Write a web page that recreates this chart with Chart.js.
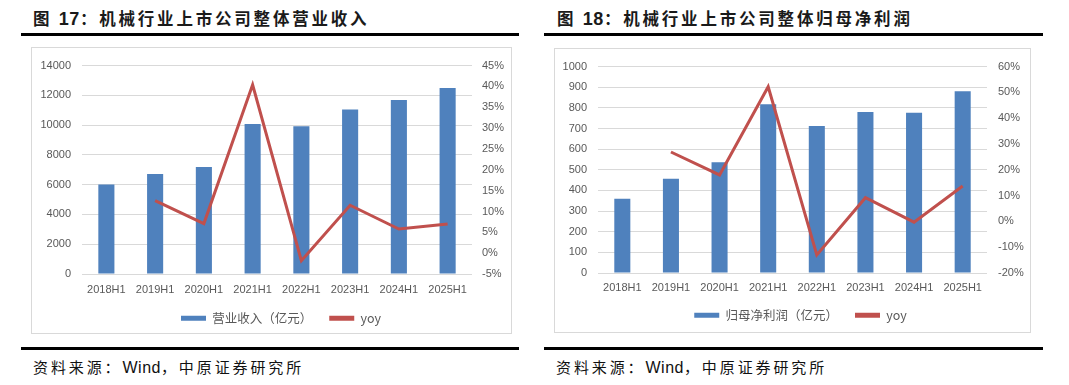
<!DOCTYPE html>
<html><head><meta charset="utf-8">
<script src="https://cdn.jsdelivr.net/npm/chart.js@4.4.1/dist/chart.umd.min.js"></script>
<style>
html,body{margin:0;padding:0;background:#fff;width:1069px;height:385px;overflow:hidden;position:relative}
.title{position:absolute;top:6px;font-family:"Noto Sans CJK SC",sans-serif;font-weight:700;font-size:16.5px;letter-spacing:2.8px;color:#1a1a1a;white-space:nowrap;line-height:24px}
.title b{font-family:"Liberation Sans",Arial,sans-serif;font-weight:700;font-size:18px;letter-spacing:0.5px}
.rule{position:absolute;height:3px;background:#000}
.box{position:absolute;border:1px solid #D9D9D9;box-sizing:border-box}
canvas{position:absolute}
.src{position:absolute;top:356px;font-family:"Noto Sans CJK SC",sans-serif;font-size:15px;letter-spacing:2.9px;color:#111;white-space:nowrap;line-height:22px}
.src span{font-family:"Liberation Sans",Arial,sans-serif;letter-spacing:0.5px;font-size:16px}
</style></head><body>
<div class="title" style="left:33px">图 <b>17</b>：机械行业上市公司整体营业收入</div>
<div class="title" style="left:557px">图 <b>18</b>：机械行业上市公司整体归母净利润</div>
<div class="rule" style="left:21px;width:498px;top:33px"></div>
<div class="rule" style="left:544px;width:499px;top:33px"></div>
<div class="box" style="left:31px;top:47px;width:481px;height:287px"></div>
<div class="box" style="left:554px;top:48px;width:477px;height:285px"></div>
<canvas id="c1" width="479" height="285" style="left:32px;top:48px"></canvas>
<canvas id="c2" width="475" height="283" style="left:555px;top:49px"></canvas>
<div class="rule" style="left:21px;width:498px;top:347px"></div>
<div class="rule" style="left:544px;width:499px;top:347px"></div>
<div class="src" style="left:33px">资料来源：<span>Wind</span>，中原证券研究所</div>
<div class="src" style="left:556px">资料来源：<span>Wind</span>，中原证券研究所</div>
<script>
const categories = ["2018H1","2019H1","2020H1","2021H1","2022H1","2023H1","2024H1","2025H1"];
const revenue = [6010, 6715, 7180, 10085, 9920, 11050, 11690, 12500];
const revenueYoy = [null, 12.6, 7.1, 40.4, -1.8, 11.5, 5.8, 7.0];
const profit = [360, 457, 537, 818, 712, 780, 777, 881];
const profitYoy = [null, 26.9, 18.0, 52.2, -13.0, 9.2, -0.3, 13.7];
const revenueLabel = "营业收入（亿元）";
const profitLabel = "归母净利润（亿元）";
const yoyLabel = "yoy";

const BLUE = "#4F81BD", RED = "#C0504D", GRID = "#D9D9D9", TXT = "#595959";
const tickFont = {family: "'Liberation Sans', Arial, sans-serif", size: 11};

function build(id, barLabel, bars, yoy, leftMax, leftStep, rMin, rMax, rStep, g) {
  const legendSize = {
    id: "legendSize",
    afterInit(chart) {
      const lg = chart.legend;
      const origFit = lg.fit;
      lg.fit = function () { origFit.call(this); if (this.options.display) this.height = g.lh; };
      const origDraw = lg.draw;
      lg.draw = function () {
        this.ctx.save(); this.ctx.translate(g.ldx, 0);
        origDraw.call(this);
        this.ctx.restore();
      };
    }
  };
  return new Chart(document.getElementById(id), {
    type: "bar",
    data: {
      labels: categories,
      datasets: [
        {type: "bar", label: barLabel, data: bars, backgroundColor: BLUE, borderWidth: 0,
         yAxisID: "y", order: 2, barPercentage: 1, categoryPercentage: 0.33},
        {type: "line", label: yoyLabel, data: yoy, borderColor: RED, backgroundColor: RED,
         borderWidth: 3, pointRadius: 0, tension: 0, yAxisID: "y1", order: 1, spanGaps: false}
      ]
    },
    plugins: [legendSize],
    options: {
      responsive: false, animation: false, devicePixelRatio: 1,
      layout: {padding: {top: g.top, left: 0, right: 0, bottom: 0}},
      plugins: {
        tooltip: {enabled: false},
        legend: {
          position: "bottom", fullSize: false,
          labels: {
            color: TXT, boxWidth: 25, boxHeight: 5, padding: 17,
            font: {family: "'Noto Sans CJK SC', sans-serif", size: 12.5},
            sort: (a, b) => a.datasetIndex - b.datasetIndex,
            generateLabels: (chart) => Chart.defaults.plugins.legend.labels.generateLabels(chart)
              .map(l => Object.assign(l, {lineWidth: 0, strokeStyle: "rgba(0,0,0,0)"}))
          }
        }
      },
      scales: {
        x: {
          grid: {display: false, drawTicks: false}, border: {display: false},
          ticks: {color: TXT, font: tickFont, padding: g.xp, maxRotation: 0},
          afterFit: s => { s.height = g.xh; }
        },
        y: {
          position: "left", min: 0, max: leftMax,
          grid: {color: GRID, lineWidth: 1, drawTicks: false}, border: {display: false},
          ticks: {stepSize: leftStep, color: TXT, font: tickFont, padding: 11, callback: v => String(v)},
          afterFit: s => { s.width = g.lw; }
        },
        y1: {
          position: "right", min: rMin, max: rMax,
          grid: {display: false, drawTicks: false}, border: {display: false},
          ticks: {stepSize: rStep, color: TXT, font: tickFont, padding: g.rp, callback: v => v + "%"},
          afterFit: s => { s.width = g.rw; }
        }
      }
    }
  });
}

build("c1", revenueLabel, revenue, revenueYoy, 14000, 2000, -5, 45, 5,
      {top: 14, xp: 9, xh: 21, lh: 38, lw: 50, rw: 39, rp: 10, ldx: 4});
build("c2", profitLabel, profit, profitYoy, 1000, 100, -20, 60, 10,
      {top: 13, xp: 8, xh: 19, lh: 40, lw: 43, rw: 43, rp: 11, ldx: 8});
</script>
</body></html>
